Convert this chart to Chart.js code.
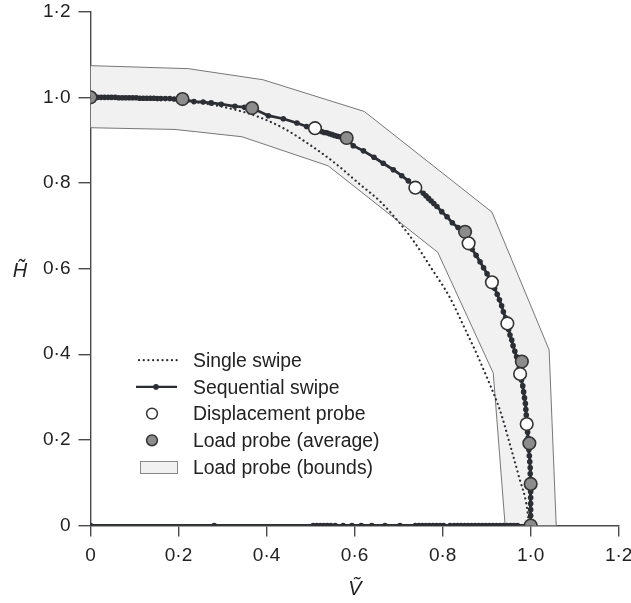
<!DOCTYPE html>
<html>
<head>
<meta charset="utf-8">
<script src="https://cdn.jsdelivr.net/npm/chart.js@4"></script>
<style>
body{margin:0;background:#fff}
</style>
</head>
<body>
<canvas id="chartCanvas" width="631" height="603"></canvas>
<script>
// normalised capacity: V = vertical, H = horizontal
let tickLabels=["0","0·2","0·4","0·6","0·8","1·0","1·2"]

let singleV=[0,0.10,0.20,0.28,0.34,0.38,0.44,0.50,0.556,0.613,0.658,0.705,0.735,0.775,0.815,0.855,0.880,0.905,0.930,0.955,0.975,0.990,0.997]
let singleH=[1.0,0.999,0.993,0.982,0.968,0.955,0.927,0.888,0.846,0.796,0.757,0.703,0.663,0.600,0.535,0.450,0.395,0.335,0.270,0.182,0.108,0.052,0.0]

let seqV=[0,0.008,0.016,0.024,0.032,0.040,0.048,0.056,0.064,0.072,0.080,0.088,0.096,0.104,0.112,0.120,0.128,0.136,0.144,0.152,0.160,0.170,0.180,0.190,
    0.208,0.235,0.256,0.274,0.297,0.328,0.350,0.367,
    0.404,0.438,0.469,0.491,0.510,0.525,0.531,0.537,0.543,0.549,0.555,0.561,0.567,0.582,
    0.597,0.620,0.644,0.665,0.688,0.707,0.722,0.738,0.756,0.762,0.768,0.774,0.780,0.787,0.798,0.810,0.822,0.835,0.851,
    0.859,0.867,0.876,0.885,0.893,0.901,0.908,0.912,0.918,0.924,0.929,0.934,0.938,0.943,
    0.947,0.950,0.953,0.957,0.960,0.964,0.968,0.971,0.974,0.977,0.979,0.982,0.984,0.986,0.988,0.989,0.990,0.991,0.992,0.993,
    0.994,0.995,0.996,0.997,0.998,0.999,0.999,0.999,0.999,1.0,1.0,1.0,1.0,1.0,1.0,1.0,
    0.970,0.962,0.954,0.946,0.938,0.930,0.922,0.914,0.906,0.898,0.890,0.882,0.874,0.866,0.858,0.850,0.842,0.834,0.826,0.817,
    0.802,0.794,0.786,0.778,0.770,0.762,0.754,0.746,0.738,0.703,0.669,0.639,0.615,0.594,0.574,0.556,0.546,0.538,0.530,0.522,0.514,0.506,0.281,0]
let seqH=[1.0,1.0,1.0,1.0,1.0,1.0,1.0,1.0,0.999,0.999,0.999,0.999,0.999,0.999,0.998,0.998,0.998,0.998,0.998,0.997,0.997,0.997,0.997,0.996,
    0.996,0.990,0.989,0.987,0.984,0.979,0.977,0.975,
    0.957,0.950,0.940,0.932,0.928,0.920,0.918,0.917,0.915,0.913,0.911,0.909,0.908,0.905,
    0.887,0.875,0.860,0.846,0.831,0.817,0.805,0.790,0.776,0.770,0.764,0.758,0.752,0.745,0.733,0.721,0.707,0.696,0.686,
    0.659,0.645,0.631,0.616,0.602,0.588,0.575,0.568,0.554,0.540,0.527,0.513,0.499,0.485,
    0.472,0.458,0.445,0.433,0.420,0.407,0.394,0.382,0.368,0.354,0.340,0.326,0.312,0.298,0.285,0.271,0.258,0.245,0.231,0.218,
    0.204,0.191,0.177,0.163,0.149,0.135,0.121,0.107,0.093,0.079,0.065,0.051,0.037,0.023,0.010,0.0,
    0,0,0,0,0,0,0,0,0,0,0,0,0,0,0,0,0,0,0,0,
    0,0,0,0,0,0,0,0,0,0,0,0,0,0,0,0,0,0,0,0,0,0,0,0]

let dispV=[0.510,0.738,0.859,0.912,0.947,0.976,0.991]
let dispH=[0.928,0.789,0.659,0.568,0.472,0.354,0.237]

let loadV=[0,0.209,0.367,0.582,0.851,0.980,0.997,1.0,1.0]
let loadH=[1.0,0.996,0.975,0.905,0.686,0.383,0.192,0.097,0]

// upper bound out along the curve, lower bound back to the H axis
let boundV=[0,0.222,0.392,0.622,0.912,1.042,1.058,0.942,0.915,0.789,0.540,0.344,0.192,0]
let boundH=[1.074,1.067,1.041,0.967,0.732,0.410,0,0,0.356,0.638,0.840,0.908,0.925,0.929]

let pts=(xs,ys)=>xs.map((x,i)=>({x:x,y:ys[i]}))

let ink="#2b2e33"
let font='"Liberation Sans", Arial, sans-serif'
Chart.defaults.font.family=font

// legend and axis titles drawn straight onto the canvas
let legendPlugin={
    id:"sideLegend",
    afterDraw(chart){
        let ctx=chart.ctx
        let ds=chart.data.datasets
        ctx.save()
        ctx.font="19.4px "+font
        ctx.textBaseline="alphabetic"
        ds.forEach((d,i)=>{
            let base=367+26.7*i
            let cy=base-6.8
            ctx.fillStyle="#222"
            ctx.fillText(d.label,193,base)
            if(d.kind==="dotted"){
                ctx.save()
                ctx.strokeStyle=ink
                ctx.lineWidth=2.2
                ctx.lineCap="round"
                ctx.setLineDash([0.1,4.6])
                ctx.beginPath();ctx.moveTo(139,cy);ctx.lineTo(177,cy);ctx.stroke()
                ctx.restore()
            }else if(d.kind==="seq"){
                ctx.strokeStyle=ink
                ctx.lineWidth=2.4
                ctx.beginPath();ctx.moveTo(136,cy);ctx.lineTo(177,cy);ctx.stroke()
                ctx.fillStyle=ink
                ctx.beginPath();ctx.arc(156,cy,2.8,0,Math.PI*2);ctx.fill()
            }else if(d.kind==="circle"){
                ctx.fillStyle=d.pointBackgroundColor
                ctx.strokeStyle="#333"
                ctx.lineWidth=1.5
                ctx.beginPath();ctx.arc(152,cy,5.4,0,Math.PI*2);ctx.fill();ctx.stroke()
            }else{
                ctx.fillStyle=d.backgroundColor
                ctx.strokeStyle="#888"
                ctx.lineWidth=1
                ctx.fillRect(140,cy-6,38,12)
                ctx.strokeRect(140.5,cy-5.5,37,12)
            }
        })
        ctx.fillStyle="#222"
        ctx.font="italic 20px "+font
        ctx.textAlign="center"
        ctx.fillText("H\u0303",20,277)
        ctx.fillText("V\u0303",355,595)
        ctx.restore()
    }
}

let axisStyle=(len)=>({
    grid:{drawOnChartArea:false,drawTicks:true,tickLength:len,color:"#4a4a4a",lineWidth:1.4},
    border:{color:"#4a4a4a",width:1.4}
})

let chart=new Chart(document.querySelector("#chartCanvas"),{
    type:"line",
    data:{
        datasets:[
            {label:"Single swipe",kind:"dotted",data:pts(singleV,singleH),borderColor:ink,borderWidth:2.2,borderDash:[0.1,4.6],borderCapStyle:"round",
                pointRadius:0,cubicInterpolationMode:"monotone",fill:false,order:4,clip:0},
            {label:"Sequential swipe",kind:"seq",data:pts(seqV,seqH),borderColor:ink,borderWidth:2.8,pointRadius:2.8,
                pointBackgroundColor:ink,pointBorderWidth:0,tension:0,fill:false,order:3,clip:0},
            {label:"Displacement probe",kind:"circle",data:pts(dispV,dispH),showLine:false,pointRadius:6.3,
                pointBackgroundColor:"#ffffff",pointBorderColor:"#333",pointBorderWidth:1.6,order:1,clip:0},
            {label:"Load probe (average)",kind:"circle",data:pts(loadV,loadH),showLine:false,pointRadius:6.3,
                pointBackgroundColor:"#8c8c8c",pointBorderColor:"#333",pointBorderWidth:1.6,order:2,clip:0},
            {label:"Load probe (bounds)",kind:"rect",data:pts(boundV,boundH),borderColor:"#777",borderWidth:1,
                backgroundColor:"#f1f1f1",pointRadius:0,tension:0,fill:"shape",order:5,clip:0}
        ]
    },
    options:{
        responsive:false,
        animation:false,
        devicePixelRatio:1,
        layout:{padding:{top:11.7,right:12.3,left:0,bottom:0}},
        plugins:{legend:{display:false},tooltip:{enabled:false}},
        scales:{
            x:{type:"linear",min:0,max:1.2,
                ticks:{stepSize:0.2,color:"#222",font:{size:19},padding:8,maxRotation:0,callback:(v,i)=>tickLabels[i]},
                ...axisStyle(11),
                afterFit:(s)=>{s.height=77.5;s.paddingLeft=0;s.paddingRight=0}
            },
            y:{type:"linear",min:0,max:1.2,
                ticks:{stepSize:0.2,color:"#222",font:{size:19},padding:8,callback:(v,i)=>tickLabels[i]},
                ...axisStyle(12),
                afterFit:(s)=>{s.width=90.5;s.paddingTop=0;s.paddingBottom=0}
            }
        }
    },
    plugins:[legendPlugin]
})
</script>
</body>
</html>
